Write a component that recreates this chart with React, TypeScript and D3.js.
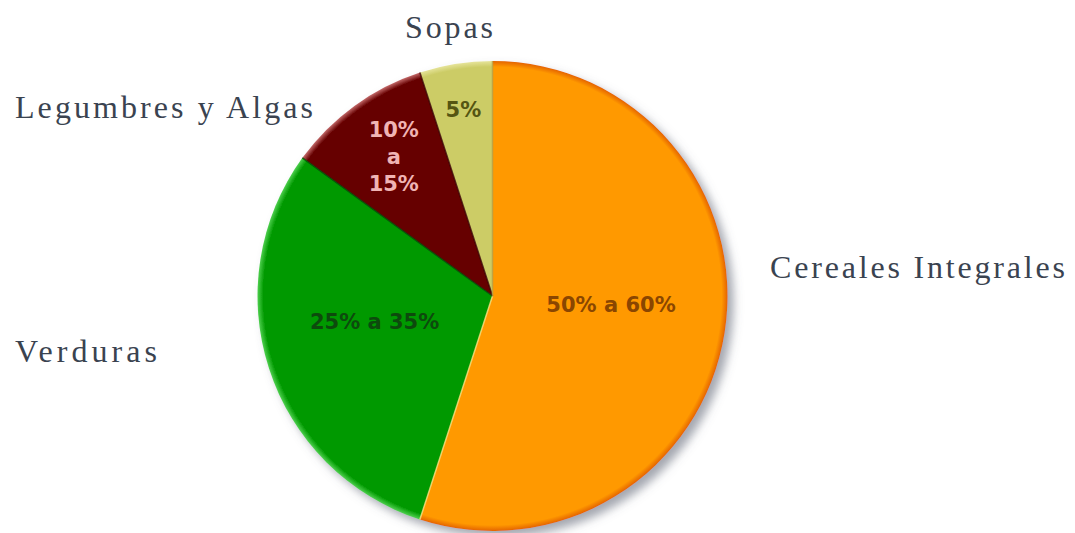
import React from "react";
import * as d3 from "d3";

const categories = ["Cereales Integrales", "Verduras", "Legumbres y Algas", "Sopas"];
const values = [55, 30, 10, 5];
const sliceLabels = [["50% a 60%"], ["25% a 35%"], ["10%", "a", "15%"], ["5%"]];

const fills = ["#ff9900", "#009900", "#660000", "#cccc66"];
const rims = ["#e46400", "#4fd04f", "#c46a6a", "#e6e49a"];
const textColors = ["#8a4600", "#0d4a0d", "#f0b4b4", "#555512"];
const labelRadius = [120, 124, 168, 186];
const labelDy = [-10, -12, -3, -2];

const W = 1075;
const H = 533;
const cx = 492.5;
const cy = 296;
const R = 235;

export default function App() {
  const pie = d3
    .pie<number>()
    .sort(null)
    .value((d) => d)
    .startAngle(0)
    .endAngle(2 * Math.PI);
  const arcs = pie(values);
  const arcGen = d3.arc<d3.PieArcDatum<number>>().innerRadius(0).outerRadius(R);

  return (
    <div style={{ position: "absolute", left: 0, top: 0 }}>
      <svg width={W} height={H} style={{ display: "block", background: "#ffffff" }}>
        <defs>
          <filter id="shadow" x="-20%" y="-20%" width="140%" height="140%">
            <feGaussianBlur in="SourceAlpha" stdDeviation="5" />
            <feOffset dx="6" dy="6" result="blur" />
            <feFlood floodColor="#5a6070" floodOpacity="0.55" />
            <feComposite in2="blur" operator="in" />
            <feMerge>
              <feMergeNode />
              <feMergeNode in="SourceGraphic" />
            </feMerge>
          </filter>
          {fills.map((f, i) => (
            <radialGradient
              key={i}
              id={`g${i}`}
              gradientUnits="userSpaceOnUse"
              cx={0}
              cy={0}
              r={R}
            >
              <stop offset="0" stopColor={f} />
              <stop offset="0.975" stopColor={f} />
              <stop offset="1" stopColor={rims[i]} />
            </radialGradient>
          ))}
        </defs>
        <g transform={`translate(${cx},${cy})`}>
          <g filter="url(#shadow)">
            {arcs.map((a, i) => (
              <path key={i} d={arcGen(a) || ""} fill={`url(#g${i})`} />
            ))}
          </g>
          {arcs.map((a, i) => {
            const ang = a.endAngle;
            const x2 = R * Math.sin(ang);
            const y2 = -R * Math.cos(ang);
            const col = i === 0 ? "#ffe27a" : i === 1 ? "#004a00" : i === 2 ? "#3a0000" : "#b8a040";
            return (
              <line
                key={`b${i}`}
                x1={0}
                y1={0}
                x2={x2}
                y2={y2}
                stroke={col}
                strokeWidth={1.5}
                strokeOpacity={0.8}
              />
            );
          })}
          {arcs.map((a, i) => {
            const mid = (a.startAngle + a.endAngle) / 2;
            const r = labelRadius[i];
            const x = r * Math.sin(mid);
            const y = -r * Math.cos(mid) + labelDy[i];
            const lines = sliceLabels[i];
            const lh = 27;
            return (
              <text
                key={`t${i}`}
                x={x}
                y={y}
                textAnchor="middle"
                fill={textColors[i]}
                style={{ fontFamily: "DejaVu Sans", fontWeight: "bold", fontSize: 21 }}
              >
                {lines.map((l, j) => (
                  <tspan
                    key={j}
                    x={x}
                    y={y + (j - (lines.length - 1) / 2) * lh}
                    dominantBaseline="central"
                  >
                    {l}
                  </tspan>
                ))}
              </text>
            );
          })}
        </g>
        <g style={{ fontFamily: "Liberation Serif", fontSize: 32 }} fill="#3a4350">
          <text x={405} y={38} textLength={88} lengthAdjust="spacing">
            {categories[3]}
          </text>
          <text x={15} y={118} textLength={298} lengthAdjust="spacing">
            {categories[2]}
          </text>
          <text x={770} y={278} textLength={295} lengthAdjust="spacing">
            {categories[0]}
          </text>
          <text x={15} y={362} textLength={142} lengthAdjust="spacing">
            {categories[1]}
          </text>
        </g>
      </svg>
    </div>
  );
}
